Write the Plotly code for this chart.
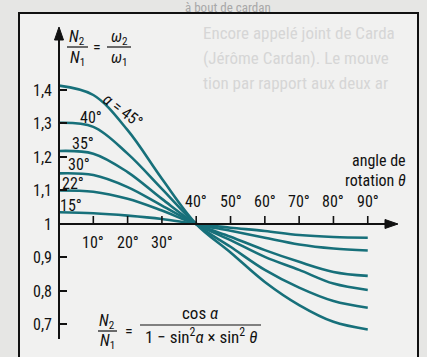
import plotly.graph_objects as go

# ---------------- data ----------------
theta = [0, 10, 20, 30, 40, 50, 60, 70, 80, 90]
alpha_names = ["15°", "22°", "30°", "35°", "40°", "45°"]
ratio_15 = [1.035, 1.032, 1.025, 1.015, 1.0, 0.989, 0.979, 0.967, 0.961, 0.959]
ratio_22 = [1.100, 1.096, 1.075, 1.040, 1.0, 0.980, 0.959, 0.939, 0.927, 0.921]
ratio_30 = [1.151, 1.146, 1.110, 1.055, 1.0, 0.962, 0.922, 0.887, 0.857, 0.845]
ratio_35 = [1.218, 1.210, 1.155, 1.075, 1.0, 0.952, 0.902, 0.863, 0.822, 0.803]
ratio_40 = [1.302, 1.290, 1.210, 1.105, 1.0, 0.932, 0.863, 0.810, 0.770, 0.750]
ratio_45 = [1.413, 1.385, 1.280, 1.135, 1.0, 0.915, 0.827, 0.758, 0.708, 0.685]
series = [ratio_15, ratio_22, ratio_30, ratio_35, ratio_40, ratio_45]

y_tickvals = [0.7, 0.8, 0.9, 1.0, 1.1, 1.2, 1.3, 1.4]
y_ticktext = ["0,7", "0,8", "0,9", "1", "1,1", "1,2", "1,3", "1,4"]
x_tickvals = [10, 20, 30, 40, 50, 60, 70, 80, 90]
x_ticktext = ["10°", "20°", "30°", "40°", "50°", "60°", "70°", "80°", "90°"]

# ---------------- layout geometry ----------------
W, H = 427, 357
ML, MR, MT, MB = 59, 27, 28, 18
XR = [0, 99.4]
YR = [0.6567, 1.585]
PW, PH = W - ML - MR, H - MT - MB


def pxp(xp):  # pixel -> paper x
    return (xp - ML) / PW


def pyp(yp):  # pixel -> paper y
    return 1 - (yp - MT) / PH


FONT = "Liberation Sans Narrow, Roboto Condensed, DejaVu Sans Condensed, Liberation Sans, Arial"
TEAL = "#17707a"
INK = "#111"
fs = 16

fig = go.Figure()
for vals, name in zip(series, alpha_names):
    fig.add_trace(go.Scatter(x=theta, y=vals, mode="lines", name=name,
                             line=dict(color=TEAL, width=2.6, shape="spline", smoothing=1.0),
                             hoverinfo="skip", showlegend=False))

shapes = []


def pline(x0, y0, x1, y1, w=1.2):
    shapes.append(dict(type="line", xref="paper", yref="paper",
                       x0=pxp(x0), x1=pxp(x1), y0=pyp(y0), y1=pyp(y1),
                       line=dict(color=INK, width=w)))


def ptri(pts):
    path = "M " + " L ".join(f"{pxp(a):.5f},{pyp(b):.5f}" for a, b in pts) + " Z"
    shapes.append(dict(type="path", xref="paper", yref="paper", path=path,
                       fillcolor=INK, line=dict(color=INK, width=1)))


# frame
shapes.append(dict(type="rect", xref="paper", yref="paper",
                   x0=pxp(19), x1=pxp(418), y0=pyp(380), y1=pyp(13),
                   line=dict(color=INK, width=2), fillcolor="#f1f1f0", layer="below"))
# axes
pline(59, 339, 59, 38, 2)
ptri([(59, 27), (54.5, 40), (63.5, 40)])
shapes.append(dict(type="line", xref="x", yref="y", x0=0, x1=XR[0] + (386 - ML) / PW * (XR[1] - XR[0]),
                   y0=1, y1=1, line=dict(color=INK, width=2)))
ptri([(398, 224), (385, 219.5), (385, 228.5)])
# x tick marks
for t in x_tickvals:
    shapes.append(dict(type="line", xref="x", yref="y", x0=t, x1=t, y0=1, y1=1 + 8 / 335,
                       line=dict(color=INK, width=1.6)))
# fraction bars
pline(67, 47, 88, 47)
pline(107, 47, 131, 47)
pline(98, 331, 117, 331)
pline(140, 325, 261, 325)

ann = []


def text(xp, yp, s, size=fs, color=INK, angle=0, xanchor="center"):
    ann.append(dict(x=pxp(xp), y=pyp(yp), xref="paper", yref="paper", text=s, showarrow=False,
                    font=dict(family=FONT, size=size, color=color), textangle=angle,
                    xanchor=xanchor, yanchor="middle"))


# ghost page text (show-through from the printed page)
text(183, 7, "à bout de cardan", size=13, color="#a8a8a8", xanchor="left")
text(201, 33, "Encore appelé joint de Carda", size=17, color="#d6d6d6", xanchor="left")
text(201, 58, "(Jérôme Cardan). Le mouve", size=17, color="#d6d6d6", xanchor="left")
text(201, 83, "tion par rapport aux deux ar", size=17, color="#d6d6d6", xanchor="left")

# x tick labels
for t, lab in zip(x_tickvals, x_ticktext):
    ann.append(dict(x=t, y=1, xref="x", yref="y", text=lab, showarrow=False,
                    font=dict(family=FONT, size=fs, color=INK),
                    yshift=(-19 if t < 40 else 22)))

# curve labels
text(91, 117, "40°")
text(83, 143, "35°")
text(79, 164, "30°")
text(73, 183, "22°")
text(71, 205, "15°")
text(123, 110, "<i>α</i> = 45°", angle=37)

# axis title text
text(408, 160, "angle de", xanchor="right")
text(408, 180, "rotation <i>θ</i>", xanchor="right")

# top fraction
text(77, 37, "<i>N</i><sub>2</sub>")
text(77, 58, "<i>N</i><sub>1</sub>")
text(97, 47, "=")
text(119, 37, "<i>ω</i><sub>2</sub>")
text(119, 58, "<i>ω</i><sub>1</sub>")

# bottom formula
text(107, 321, "<i>N</i><sub>2</sub>", size=16)
text(107, 341, "<i>N</i><sub>1</sub>", size=16)
text(129, 331, "=", size=16)
text(200, 313, "cos <i>α</i>", size=17)
text(201, 336, "1 − sin<sup>2</sup><i>α</i> × sin<sup>2</sup> <i>θ</i>", size=17)

fig.update_layout(
    width=W, height=H, autosize=False,
    margin=dict(l=ML, r=MR, t=MT, b=MB, pad=0),
    paper_bgcolor="#e6e6e4", plot_bgcolor="rgba(0,0,0,0)",
    shapes=shapes, annotations=ann, showlegend=False,
    xaxis=dict(range=XR, showgrid=False, zeroline=False, showline=False,
               showticklabels=False, ticks="", fixedrange=True),
    yaxis=dict(range=YR, showgrid=False, zeroline=False, showline=False,
               tickvals=y_tickvals, ticktext=y_ticktext, ticks="inside", ticklen=8,
               tickwidth=1.6, tickcolor=INK, ticklabelstandoff=6,
               tickfont=dict(family=FONT, size=fs, color=INK), fixedrange=True),
)

fig.write_html("out.html", config={"displayModeBar": False},
               post_script="document.body.style.margin='0';")
